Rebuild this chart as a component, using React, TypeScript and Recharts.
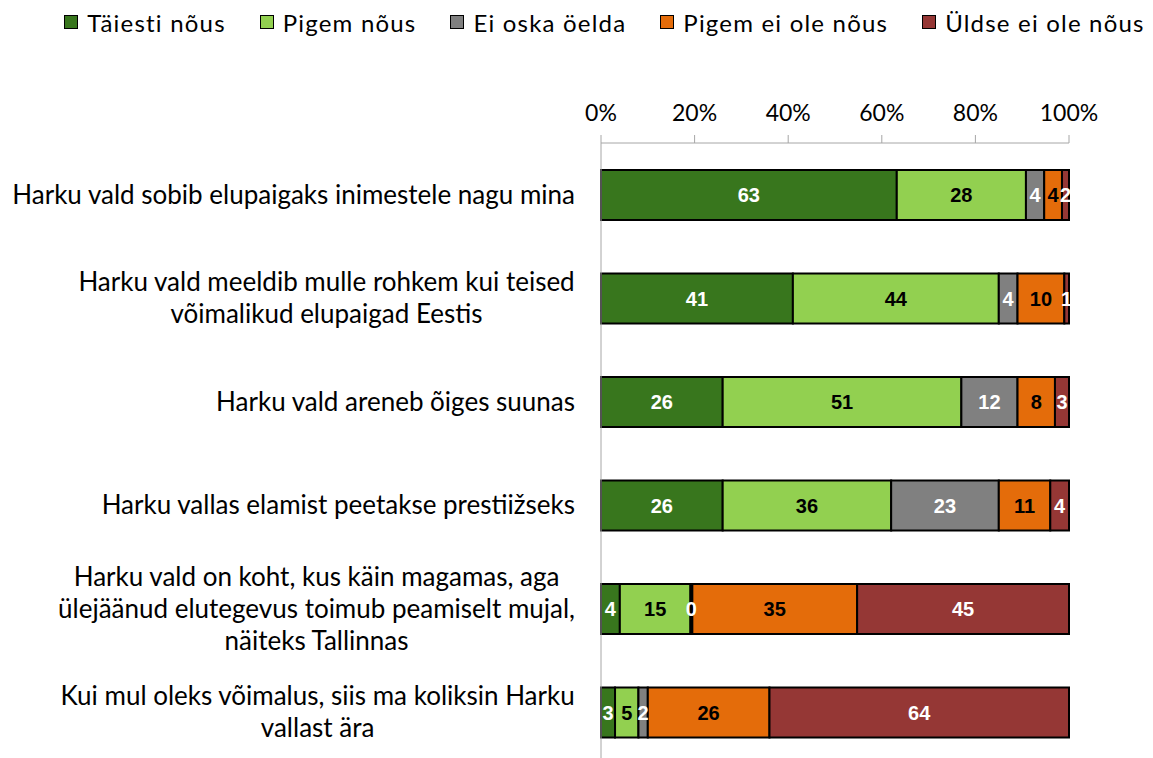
import React from 'react';
import { BarChart, Bar, XAxis, YAxis, Legend, LabelList } from 'recharts';

const categories = [
  'Harku vald sobib elupaigaks inimestele nagu mina',
  'Harku vald meeldib mulle rohkem kui teised\nvõimalikud elupaigad Eestis',
  'Harku vald areneb õiges suunas',
  'Harku vallas elamist peetakse prestiižseks',
  'Harku vald on koht, kus käin magamas, aga\nülejäänud elutegevus toimub peamiselt mujal,\nnäiteks Tallinnas',
  'Kui mul oleks võimalus, siis ma koliksin Harku\nvallast ära',
];

// shares in %, labels show the rounded value
const taiestiNous = [63.2, 41, 26, 26, 4, 3];
const pigemNous = [27.6, 44, 51, 36, 15, 5];
const eiOska = [3.9, 4, 12, 23, 0.4, 2];
const pigemEi = [3.8, 10, 8, 11, 35, 26];
const uldseEi = [1.5, 1, 3, 4, 45, 64];

const xTicks = [0, 0.2, 0.4, 0.6, 0.8, 1];

const series = [
  { key: 'taiesti', name: 'Täiesti nõus', values: taiestiNous, color: '#38761d', label: '#ffffff' },
  { key: 'pigem', name: 'Pigem nõus', values: pigemNous, color: '#92d050', label: '#000000' },
  { key: 'eioska', name: 'Ei oska öelda', values: eiOska, color: '#808080', label: '#ffffff' },
  { key: 'pigemei', name: 'Pigem ei ole nõus', values: pigemEi, color: '#e46c0a', label: '#000000' },
  { key: 'uldse', name: 'Üldse ei ole nõus', values: uldseEi, color: '#953735', label: '#ffffff' },
];

const data = categories.map((name, i) => {
  const row: Record<string, any> = { name };
  series.forEach(s => { row[s.key] = s.values[i]; });
  return row;
});

const textFont = 'Lato, "Open Sans", sans-serif';
const labelSize = 26;

let ctx: CanvasRenderingContext2D | null = null;
const measure = (t: string) => {
  if (!ctx) ctx = document.createElement('canvas').getContext('2d');
  if (!ctx) return t.length * 12;
  ctx.font = `${labelSize}px Lato`;
  return ctx.measureText(t).width;
};

const CategoryTick = (props: any) => {
  const { x, y, payload } = props;
  const lines: string[] = String(payload.value).split('\n');
  const right = x - 18;
  const maxW = Math.max(...lines.map(measure));
  const cx = lines.length > 1 ? right - maxW / 2 : right;
  const lh = 32;
  return (
    <text
      x={cx}
      y={y}
      textAnchor={lines.length > 1 ? 'middle' : 'end'}
      fontFamily={textFont}
      fontSize={labelSize}
      fill="#000"
    >
      {lines.map((l, i) => (
        <tspan key={i} x={cx} y={y - ((lines.length - 1) * lh) / 2 + i * lh} dy="0.35em">
          {l}
        </tspan>
      ))}
    </text>
  );
};

const LegendContent = () => (
  <div
    style={{
      display: 'flex',
      justifyContent: 'center',
      gap: 34,
      height: 44,
      alignItems: 'center',
      fontFamily: textFont,
      fontSize: 24,
      letterSpacing: 1.2,
      paddingLeft: 56,
    }}
  >
    {series.map(s => (
      <div key={s.key} style={{ display: 'flex', alignItems: 'center' }}>
        <span
          style={{
            width: 12,
            height: 12,
            background: s.color,
            border: '1.5px solid #000',
            marginRight: 9,
            display: 'inline-block',
          }}
        />
        <span>{s.name}</span>
      </div>
    ))}
  </div>
);

export default function App() {
  return (
    <div
      style={{
        position: 'fixed',
        left: 0,
        top: 0,
        width: 1153,
        height: 758,
        overflow: 'hidden',
        background: '#fff',
      }}
    >
      <BarChart
        width={1153}
        height={770}
        data={data}
        layout="vertical"
        stackOffset="expand"
        barSize={50}
        margin={{ top: 49, right: 84, left: 0, bottom: 6 }}
      >
        <Legend verticalAlign="top" content={<LegendContent />} wrapperStyle={{ top: 0, left: 0, width: 1153 }} />
        <XAxis
          type="number"
          orientation="top"
          domain={[0, 1]}
          ticks={xTicks}
          tickFormatter={(v: number) => `${Math.round(v * 100)}%`}
          height={50}
          tickSize={8}
          tickMargin={14}
          stroke="#a6a6a6"
          tick={{ fill: '#000', fontSize: 23, fontFamily: textFont }}
        />
        <YAxis
          type="category"
          dataKey="name"
          width={601}
          tickLine={false}
          stroke="#a6a6a6"
          tick={<CategoryTick />}
          interval={0}
        />
        {series.map(s => (
          <Bar
            key={s.key}
            dataKey={s.key}
            name={s.name}
            stackId="a"
            fill={s.color}
            stroke="#000"
            strokeWidth={2}
            isAnimationActive={false}
          >
            <LabelList
              dataKey={s.key}
              position="center"
              fill={s.label}
              formatter={(v: any) => Math.round(Number(v))}
              style={{ fontFamily: '"Liberation Sans", Arial, sans-serif', fontWeight: 'bold', fontSize: 20 }}
            />
          </Bar>
        ))}
      </BarChart>
    </div>
  );
}
